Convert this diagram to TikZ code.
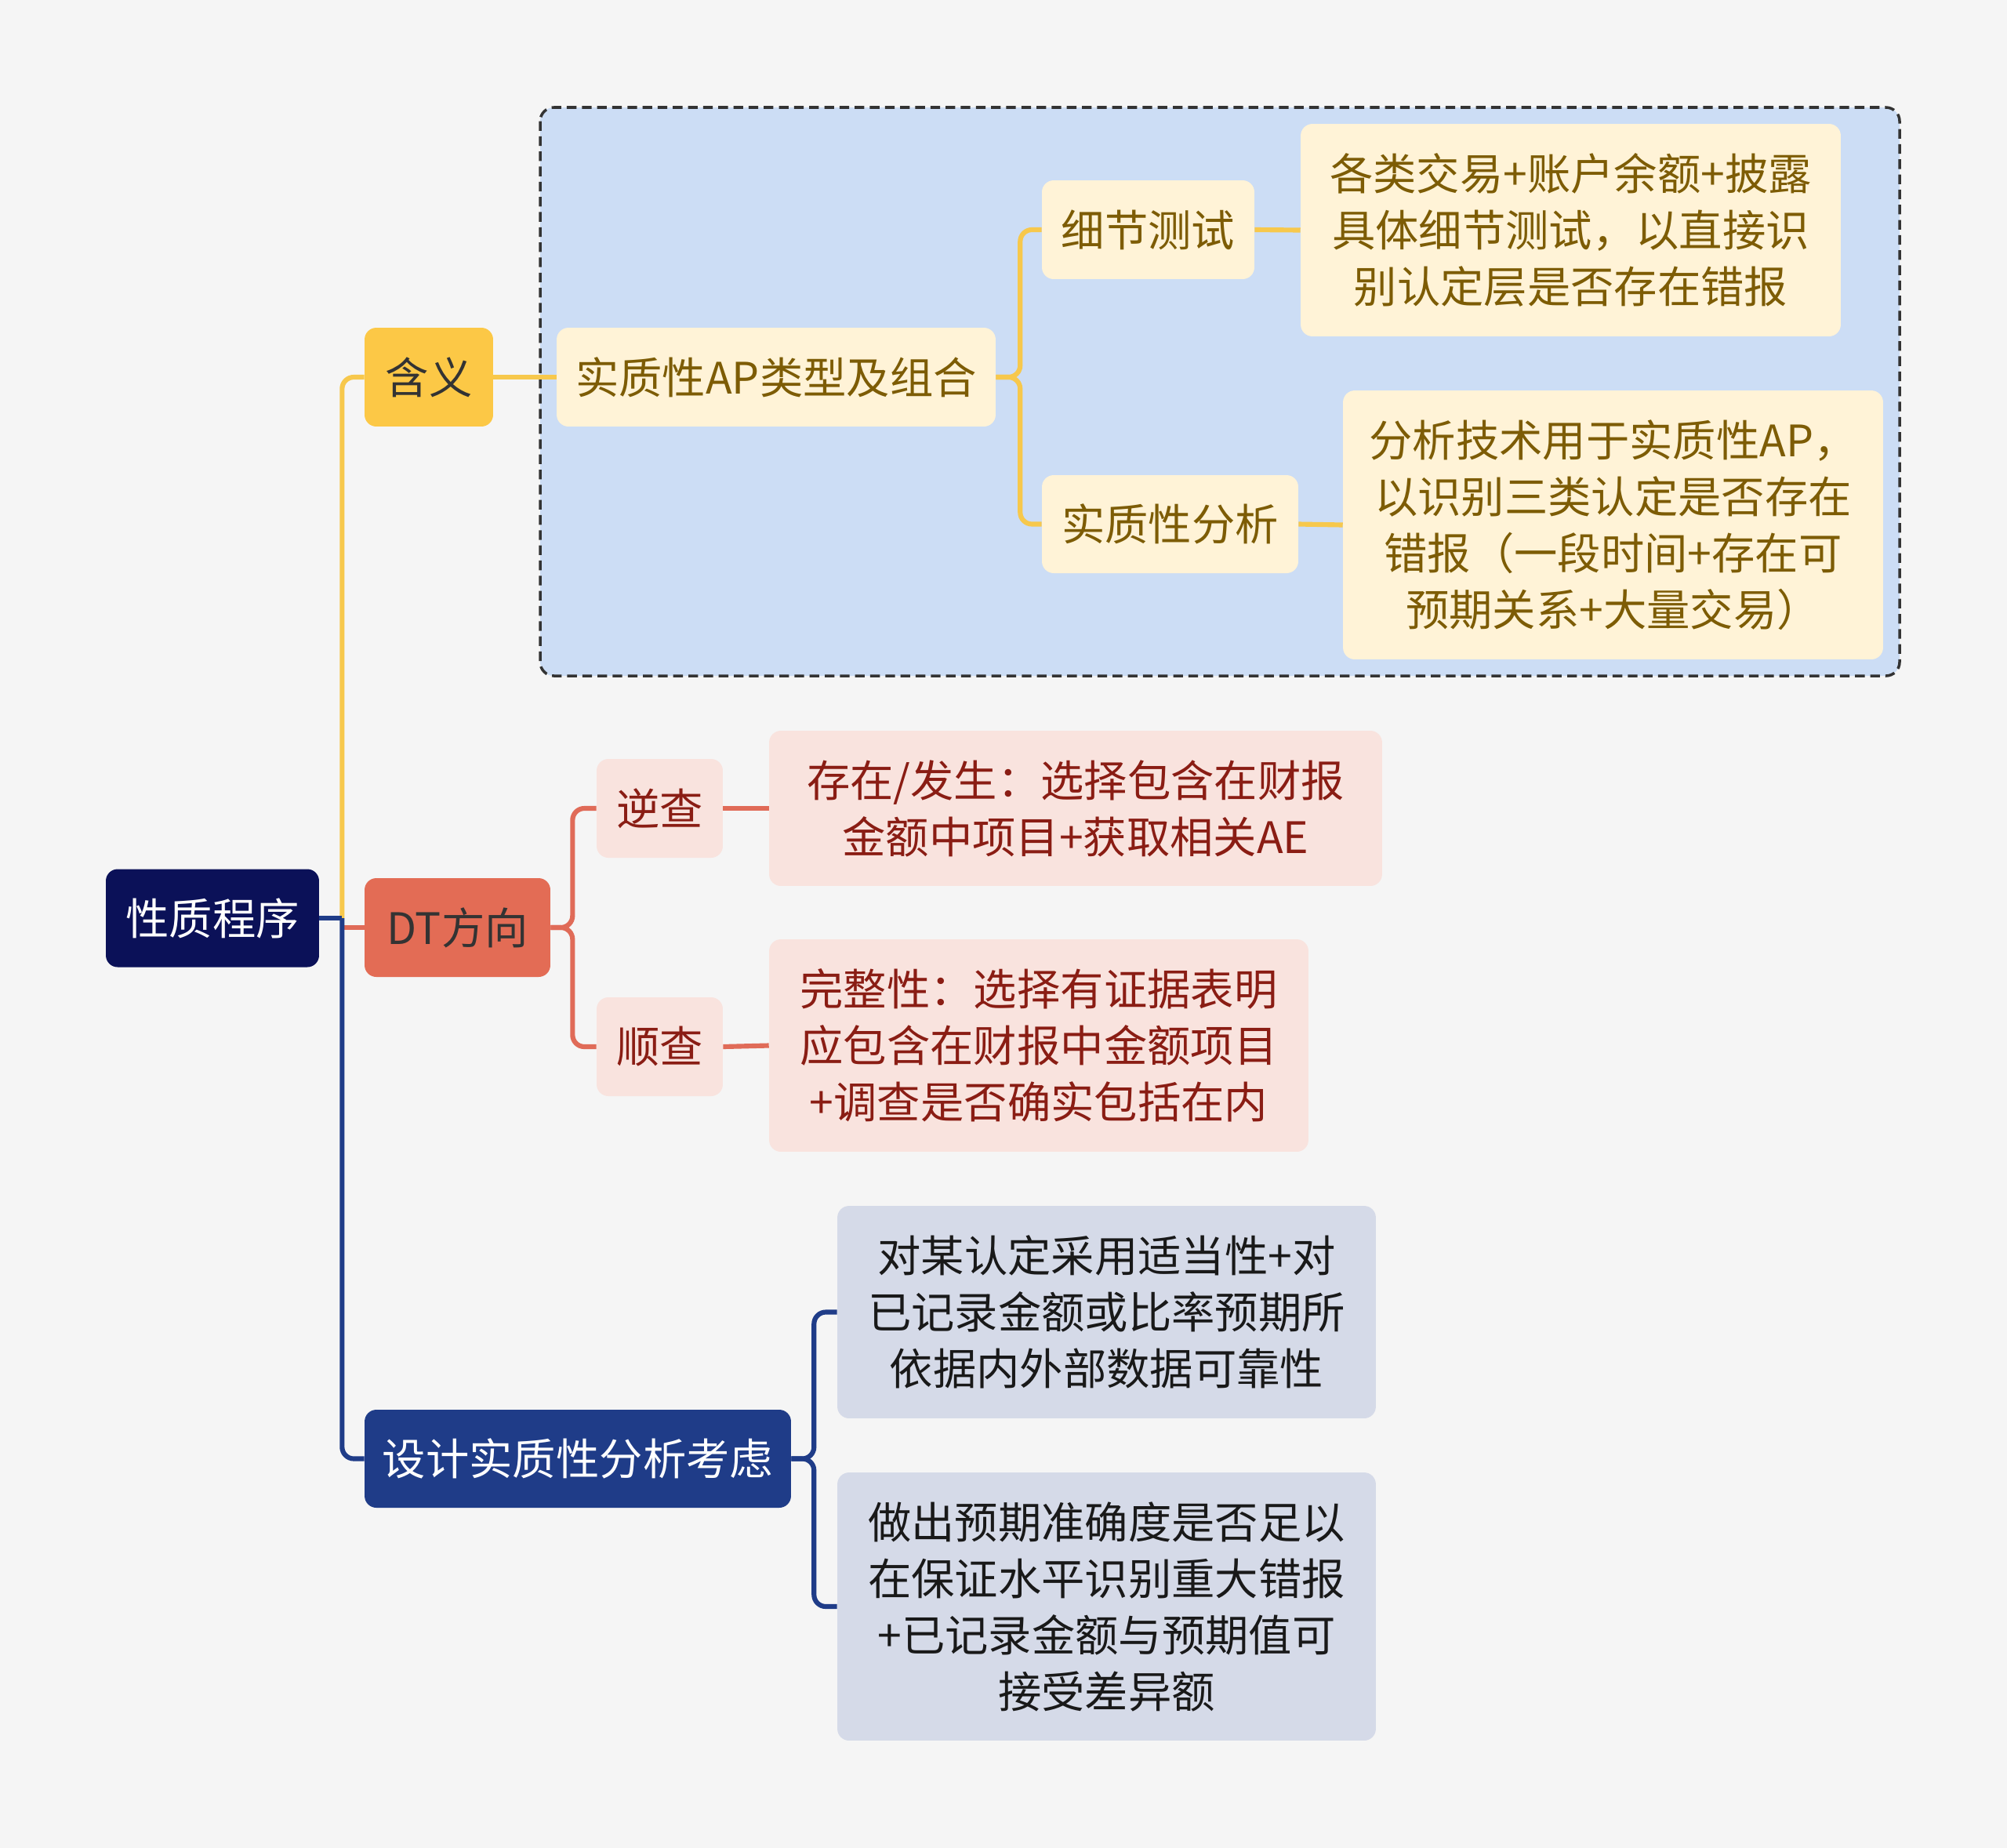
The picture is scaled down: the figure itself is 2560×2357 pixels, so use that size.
\documentclass[tikz,border=0pt]{standalone}
\usepackage{fontspec}
\newfontfamily\cjk{Noto Sans CJK SC}

\definecolor{bgcol}{HTML}{F5F5F5}
\definecolor{navy}{HTML}{0B1158}
\definecolor{gold}{HTML}{FCC846}
\definecolor{goldline}{HTML}{F7C84C}
\definecolor{cream}{HTML}{FFF3D7}
\definecolor{goldtext}{HTML}{7D5C05}
\definecolor{skyfill}{HTML}{CCDDF5}
\definecolor{coral}{HTML}{E36C55}
\definecolor{coralline}{HTML}{E06B58}
\definecolor{pinkfill}{HTML}{F9E3DE}
\definecolor{redtext}{HTML}{8A1D14}
\definecolor{royal}{HTML}{1F3C88}
\definecolor{greyfill}{HTML}{D5DAE8}

\begin{document}
\begin{tikzpicture}[x=0.02cm, y=-0.02cm,
    box/.style={rounded corners=0.3cm, align=center, inner sep=0pt, font=\cjk\fontsize{31.5}{41}\selectfont},
    rootbox/.style={box, fill=navy, text=white},
    hanyibox/.style={box, fill=gold, text=black!80},
    dtbox/.style={box, fill=coral, text=black!80},
    shejibox/.style={box, fill=royal, text=white},
    yleaf/.style={box, fill=cream, text=goldtext},
    rleaf/.style={box, fill=pinkfill, text=redtext},
    bleaf/.style={box, fill=greyfill, text=black!90},
    yline/.style={goldline, line width=3.5pt, rounded corners=0.3cm},
    rline/.style={coralline, line width=3.5pt, rounded corners=0.3cm},
    bline/.style={royal, line width=3.5pt, rounded corners=0.3cm}
]
\useasboundingbox[fill=bgcol] (0,0) rectangle (2560,2357);

% dashed frame round the first branch
\draw[fill=skyfill, draw=black!80, line width=2pt, dash pattern=on 7pt off 4pt, rounded corners=0.35cm]
    (689,137) rectangle (2423,862);

\node (root) at (271,1171) [rootbox, minimum width=5.44cm, minimum height=2.5cm] {性质程序};

\node (hanyi) at (547,481) [hanyibox, minimum width=3.28cm, minimum height=2.52cm] {含义};
\node (dt) at (583.5,1183) [dtbox, minimum width=4.74cm, minimum height=2.52cm] {DT方向};
\node (sheji) at (737,1860.5) [shejibox, minimum width=10.88cm, minimum height=2.5cm] {设计实质性分析考虑};

\node (ap) at (990,481) [yleaf, minimum width=11.2cm, minimum height=2.52cm] {实质性AP类型及组合};
\node (xijie) at (1464.5,293) [yleaf, minimum width=5.42cm, minimum height=2.52cm] {细节测试};
\node (gelei) at (2003.5,293.5) [yleaf, minimum width=13.78cm, minimum height=5.42cm]
    {各类交易+账户余额+披露\\具体细节测试，以直接识\\别认定层是否存在错报};
\node (shizhi) at (1492.5,668.5) [yleaf, minimum width=6.54cm, minimum height=2.5cm] {实质性分析};
\node (fenxi) at (2057.5,669.5) [yleaf, minimum width=13.78cm, minimum height=6.86cm]
    {分析技术用于实质性AP，\\以识别三类认定是否存在\\错报（一段时间+存在可\\预期关系+大量交易）};

\node (nicha) at (841.5,1031) [rleaf, minimum width=3.22cm, minimum height=2.52cm] {逆查};
\node (cunzai) at (1372,1031) [rleaf, minimum width=15.64cm, minimum height=3.96cm]
    {存在/发生：选择包含在财报\\金额中项目+获取相关AE};
\node (shuncha) at (841.5,1335) [rleaf, minimum width=3.22cm, minimum height=2.52cm] {顺查};
\node (wanzheng) at (1325,1333.5) [rleaf, minimum width=13.76cm, minimum height=5.42cm]
    {完整性：选择有证据表明\\应包含在财报中金额项目\\+调查是否确实包括在内};

\node (duimou) at (1411.5,1673.5) [bleaf, minimum width=13.74cm, minimum height=5.42cm]
    {对某认定采用适当性+对\\已记录金额或比率预期所\\依据内外部数据可靠性};
\node (zuochu) at (1411.5,2049) [bleaf, minimum width=13.74cm, minimum height=6.84cm]
    {做出预期准确度是否足以\\在保证水平识别重大错报\\+已记录金额与预期值可\\接受差异额};

% connectors
\path (root.east) ++(29,0) coordinate (rootfork);
\draw[yline] (rootfork) |- (hanyi.west);
\draw[rline] (rootfork |- dt.west) -- (dt.west);
\draw[bline] (root.east) -- (rootfork);
\draw[bline] (rootfork) |- (sheji.west);

\draw[yline] (hanyi.east) -- (ap.west);
\draw[yline] (ap.east) -- ++(31,0) |- (xijie.west);
\draw[yline] (ap.east) -- ++(31,0) |- (shizhi.west);
\draw[yline] (xijie.east) -- (gelei.west);
\draw[yline] (shizhi.east) -- (fenxi.west);

\draw[rline] (dt.east) -- ++(28,0) |- (nicha.west);
\draw[rline] (dt.east) -- ++(28,0) |- (shuncha.west);
\draw[rline] (nicha.east) -- (cunzai.west);
\draw[rline] (shuncha.east) -- (wanzheng.west);

\draw[bline] (sheji.east) -- ++(29,0) |- (duimou.west);
\draw[bline] (sheji.east) -- ++(29,0) |- (zuochu.west);
\end{tikzpicture}
\end{document}
